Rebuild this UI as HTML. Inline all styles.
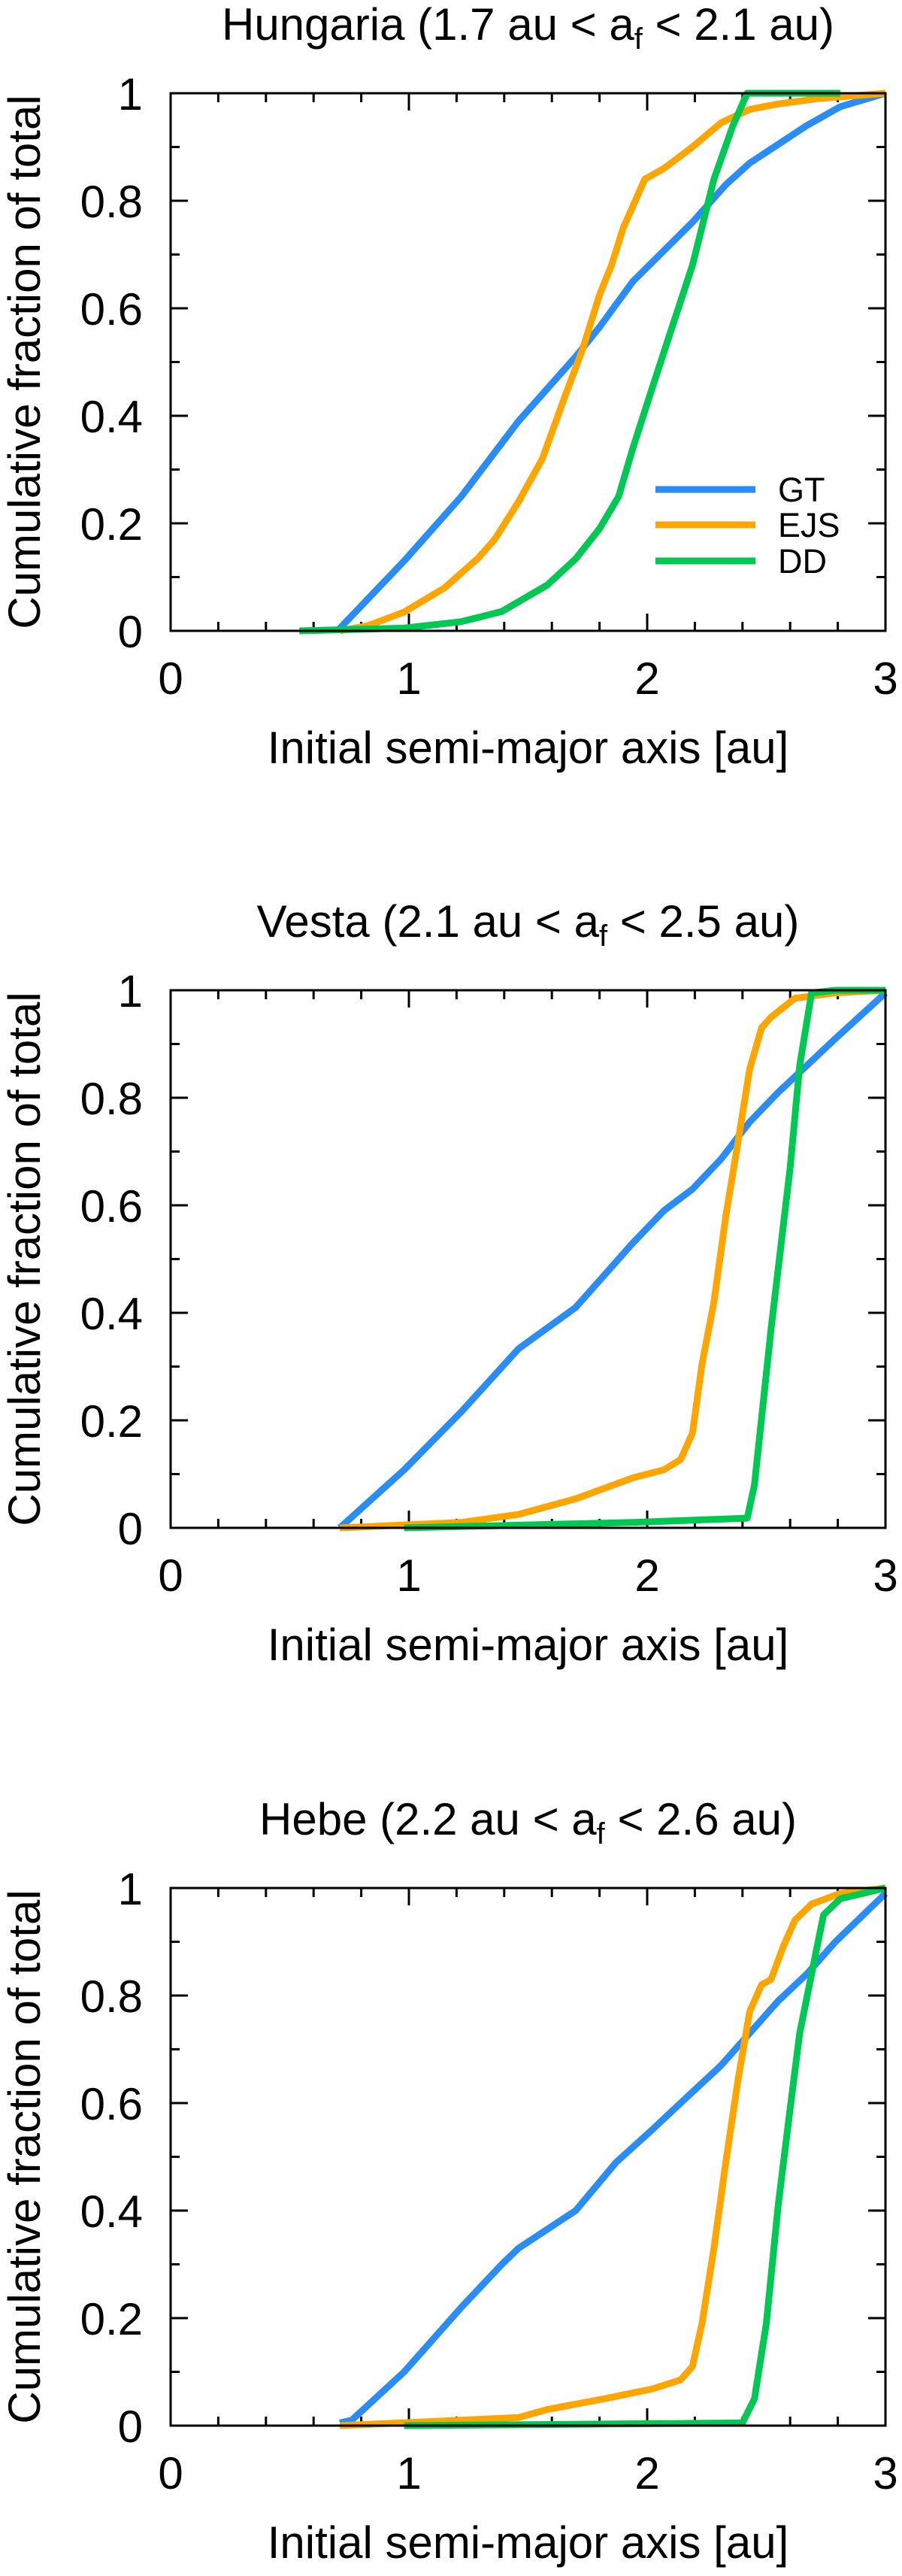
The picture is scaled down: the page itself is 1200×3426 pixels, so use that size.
<!DOCTYPE html>
<html><head><meta charset="utf-8"><style>
html,body{margin:0;padding:0;background:#fff}
svg{display:block}
text{font-family:"Liberation Sans",Arial,sans-serif;fill:#000}
</style></head><body>
<svg id="fig" width="1200" height="3426" viewBox="0 0 1200 3426" xmlns="http://www.w3.org/2000/svg"></svg>
<script>
// ---- data ----
const panelTitles = ["Hungaria (1.7 au < a", "Vesta (2.1 au < a", "Hebe (2.2 au < a"];
const panelTitleTails = [" < 2.1 au)", " < 2.5 au)", " < 2.6 au)"];
const seriesNames = ["GT", "EJS", "DD"];
const xTickLabels = ["0", "1", "2", "3"];
const yTickLabels = ["0", "0.2", "0.4", "0.6", "0.8", "1"];

const hunGT_x = [0.70,0.98,1.22,1.46,1.70,1.80,1.94,2.19,2.33,2.43,2.67,2.81,3.00];
const hunGT_y = [0,0.13,0.25,0.39,0.51,0.565,0.65,0.76,0.83,0.87,0.94,0.975,1];
const hunEJS_x = [0.71,0.83,0.98,1.15,1.29,1.36,1.46,1.56,1.65,1.73,1.80,1.85,1.90,1.94,1.99,2.07,2.19,2.31,2.43,2.55,2.72,3.00];
const hunEJS_y = [0,0.01,0.035,0.08,0.135,0.17,0.24,0.32,0.43,0.525,0.625,0.68,0.75,0.79,0.84,0.86,0.90,0.945,0.97,0.98,0.99,1];
const hunDD_x = [0.54,0.98,1.22,1.39,1.58,1.70,1.80,1.88,1.94,2.02,2.09,2.19,2.28,2.36,2.42,2.81];
const hunDD_y = [0,0.005,0.017,0.036,0.085,0.134,0.19,0.25,0.34,0.45,0.545,0.68,0.84,0.94,1,1];

const vesGT_x = [0.71,0.98,1.22,1.46,1.70,1.82,1.94,2.07,2.19,2.31,2.43,2.55,2.67,2.79,3.00];
const vesGT_y = [0,0.108,0.216,0.333,0.41,0.47,0.53,0.59,0.63,0.686,0.755,0.81,0.86,0.91,0.995];
const vesEJS_x = [0.71,1.22,1.46,1.70,1.94,2.07,2.14,2.19,2.23,2.28,2.33,2.38,2.43,2.48,2.52,2.62,2.79,3.00];
const vesEJS_y = [0,0.01,0.025,0.054,0.093,0.108,0.127,0.176,0.304,0.42,0.58,0.715,0.853,0.93,0.95,0.985,0.995,1];
const vesDD_x = [0.98,1.94,2.42,2.45,2.52,2.60,2.64,2.69,2.79,3.00];
const vesDD_y = [0,0.01,0.018,0.08,0.37,0.67,0.86,0.995,1,1];

const hebGT_x = [0.71,0.76,0.98,1.22,1.39,1.46,1.70,1.87,2.02,2.14,2.31,2.43,2.55,2.67,2.79,3.00];
const hebGT_y = [0.005,0.01,0.10,0.22,0.30,0.33,0.40,0.49,0.55,0.60,0.67,0.73,0.79,0.84,0.90,0.99];
const hebEJS_x = [0.71,1.46,1.58,1.82,2.02,2.14,2.19,2.23,2.28,2.33,2.38,2.43,2.48,2.52,2.57,2.62,2.69,2.81,3.00];
const hebEJS_y = [0,0.015,0.03,0.05,0.068,0.085,0.11,0.19,0.33,0.49,0.64,0.77,0.82,0.83,0.89,0.94,0.97,0.99,1];
const hebDD_x = [0.98,2.40,2.45,2.50,2.55,2.60,2.64,2.69,2.74,2.81,3.00];
const hebDD_y = [0,0.005,0.05,0.19,0.41,0.59,0.73,0.84,0.95,0.98,1];

const panelSeries = [
  [[hunGT_x,hunGT_y],[hunEJS_x,hunEJS_y],[hunDD_x,hunDD_y]],
  [[vesGT_x,vesGT_y],[vesEJS_x,vesEJS_y],[vesDD_x,vesDD_y]],
  [[hebGT_x,hebGT_y],[hebEJS_x,hebEJS_y],[hebDD_x,hebDD_y]]
];
const panelNames = ["hungaria","vesta","hebe"];

// ---- layout ----
const colors = ["#2a8cf5","#ffa500","#00c853"];
const L = 227, R = 1178, H = 715;
const tops = [124, 1317, 2511];
const NS = "http://www.w3.org/2000/svg";
const svg = document.getElementById('fig');
function mk(tag, attrs, parent){
  const e = document.createElementNS(NS, tag);
  for (const k in attrs) e.setAttribute(k, attrs[k]);
  parent.appendChild(e); return e;
}

panelNames.forEach((pn, p) => {
  const T = tops[p], B = T + H;
  const xs = v => L + (v/3)*(R-L);
  const ys = v => B - v*H;
  const g = mk('g', {}, svg);
  
  

  // title
  const t = mk('text', {x: (L+R)/2, y: T-71, 'font-size': 60, 'text-anchor': 'middle'}, g);
  
  
  t.appendChild(document.createTextNode(panelTitles[p]));
  const sub = mk('tspan', {'font-size': 40, dy: 12}, t);
  sub.textContent = 'f';
  const tail = mk('tspan', {dy: -12}, t);
  tail.textContent = panelTitleTails[p];

  // y-axis title
  const yl = mk('text', {x: 0, y: 0, 'font-size': 60, 'text-anchor': 'middle', transform: `translate(53,${(T+B)/2}) rotate(-90)`}, g);
  
  
  yl.textContent = 'Cumulative fraction of total';

  // x-axis title
  const xl = mk('text', {x: (L+R)/2, y: B+176, 'font-size': 60, 'text-anchor': 'middle'}, g);
  
  
  xl.textContent = 'Initial semi-major axis [au]';

  // ticks
  const tk = mk('g', {stroke: '#000', 'stroke-width': 3}, g);
  
  
  for (let i = 0; i <= 15; i++) {
    const v = i*0.2, x = xs(v), len = (i%5===0) ? 23 : 12;
    mk('line', {x1:x, y1:B, x2:x, y2:B-len}, tk);
    mk('line', {x1:x, y1:T, x2:x, y2:T+len}, tk);
  }
  for (let i = 0; i <= 10; i++) {
    const v = i*0.1, y = ys(v), len = (i%2===0) ? 23 : 12;
    mk('line', {x1:L, y1:y, x2:L+len, y2:y}, tk);
    mk('line', {x1:R, y1:y, x2:R-len, y2:y}, tk);
  }
  xTickLabels.forEach((lab, i) => {
    const e = mk('text', {x: xs(+lab), y: B+84, 'font-size': 60, 'text-anchor': 'middle'}, g);
    
    
    e.textContent = lab;
  });
  yTickLabels.forEach((lab, i) => {
    const e = mk('text', {x: 190, y: ys(+lab)+22, 'font-size': 60, 'text-anchor': 'end'}, g);
    
    
    e.textContent = lab;
  });

  // series
  panelSeries[p].forEach((s, k) => {
    const d = s[0].map((xv, i) => (i ? 'L' : 'M') + xs(xv).toFixed(1) + ' ' + ys(s[1][i]).toFixed(1)).join(' ');
    const path = mk('path', {d, fill: 'none', stroke: colors[k], 'stroke-width': 9, 'stroke-linejoin': 'round'}, g);
    
    
  });

  // frame
  const fr = mk('rect', {x: L, y: T, width: R-L, height: H, fill: 'none', stroke: '#000', 'stroke-width': 3}, g);
  
  

  // legend (first panel only)
  if (p === 0) {
    const lg = mk('g', {}, g);
    
    
    const ly = [651, 698, 746];
    seriesNames.forEach((nm, k) => {
      const ln = mk('line', {x1: 872, x2: 1005, y1: ly[k], y2: ly[k], stroke: colors[k], 'stroke-width': 9}, lg);
      
      
      const tx = mk('text', {x: 1035, y: ly[k]+16, 'font-size': 45}, lg);
      
      
      tx.textContent = nm;
    });
  }
});
</script>
</body></html>
